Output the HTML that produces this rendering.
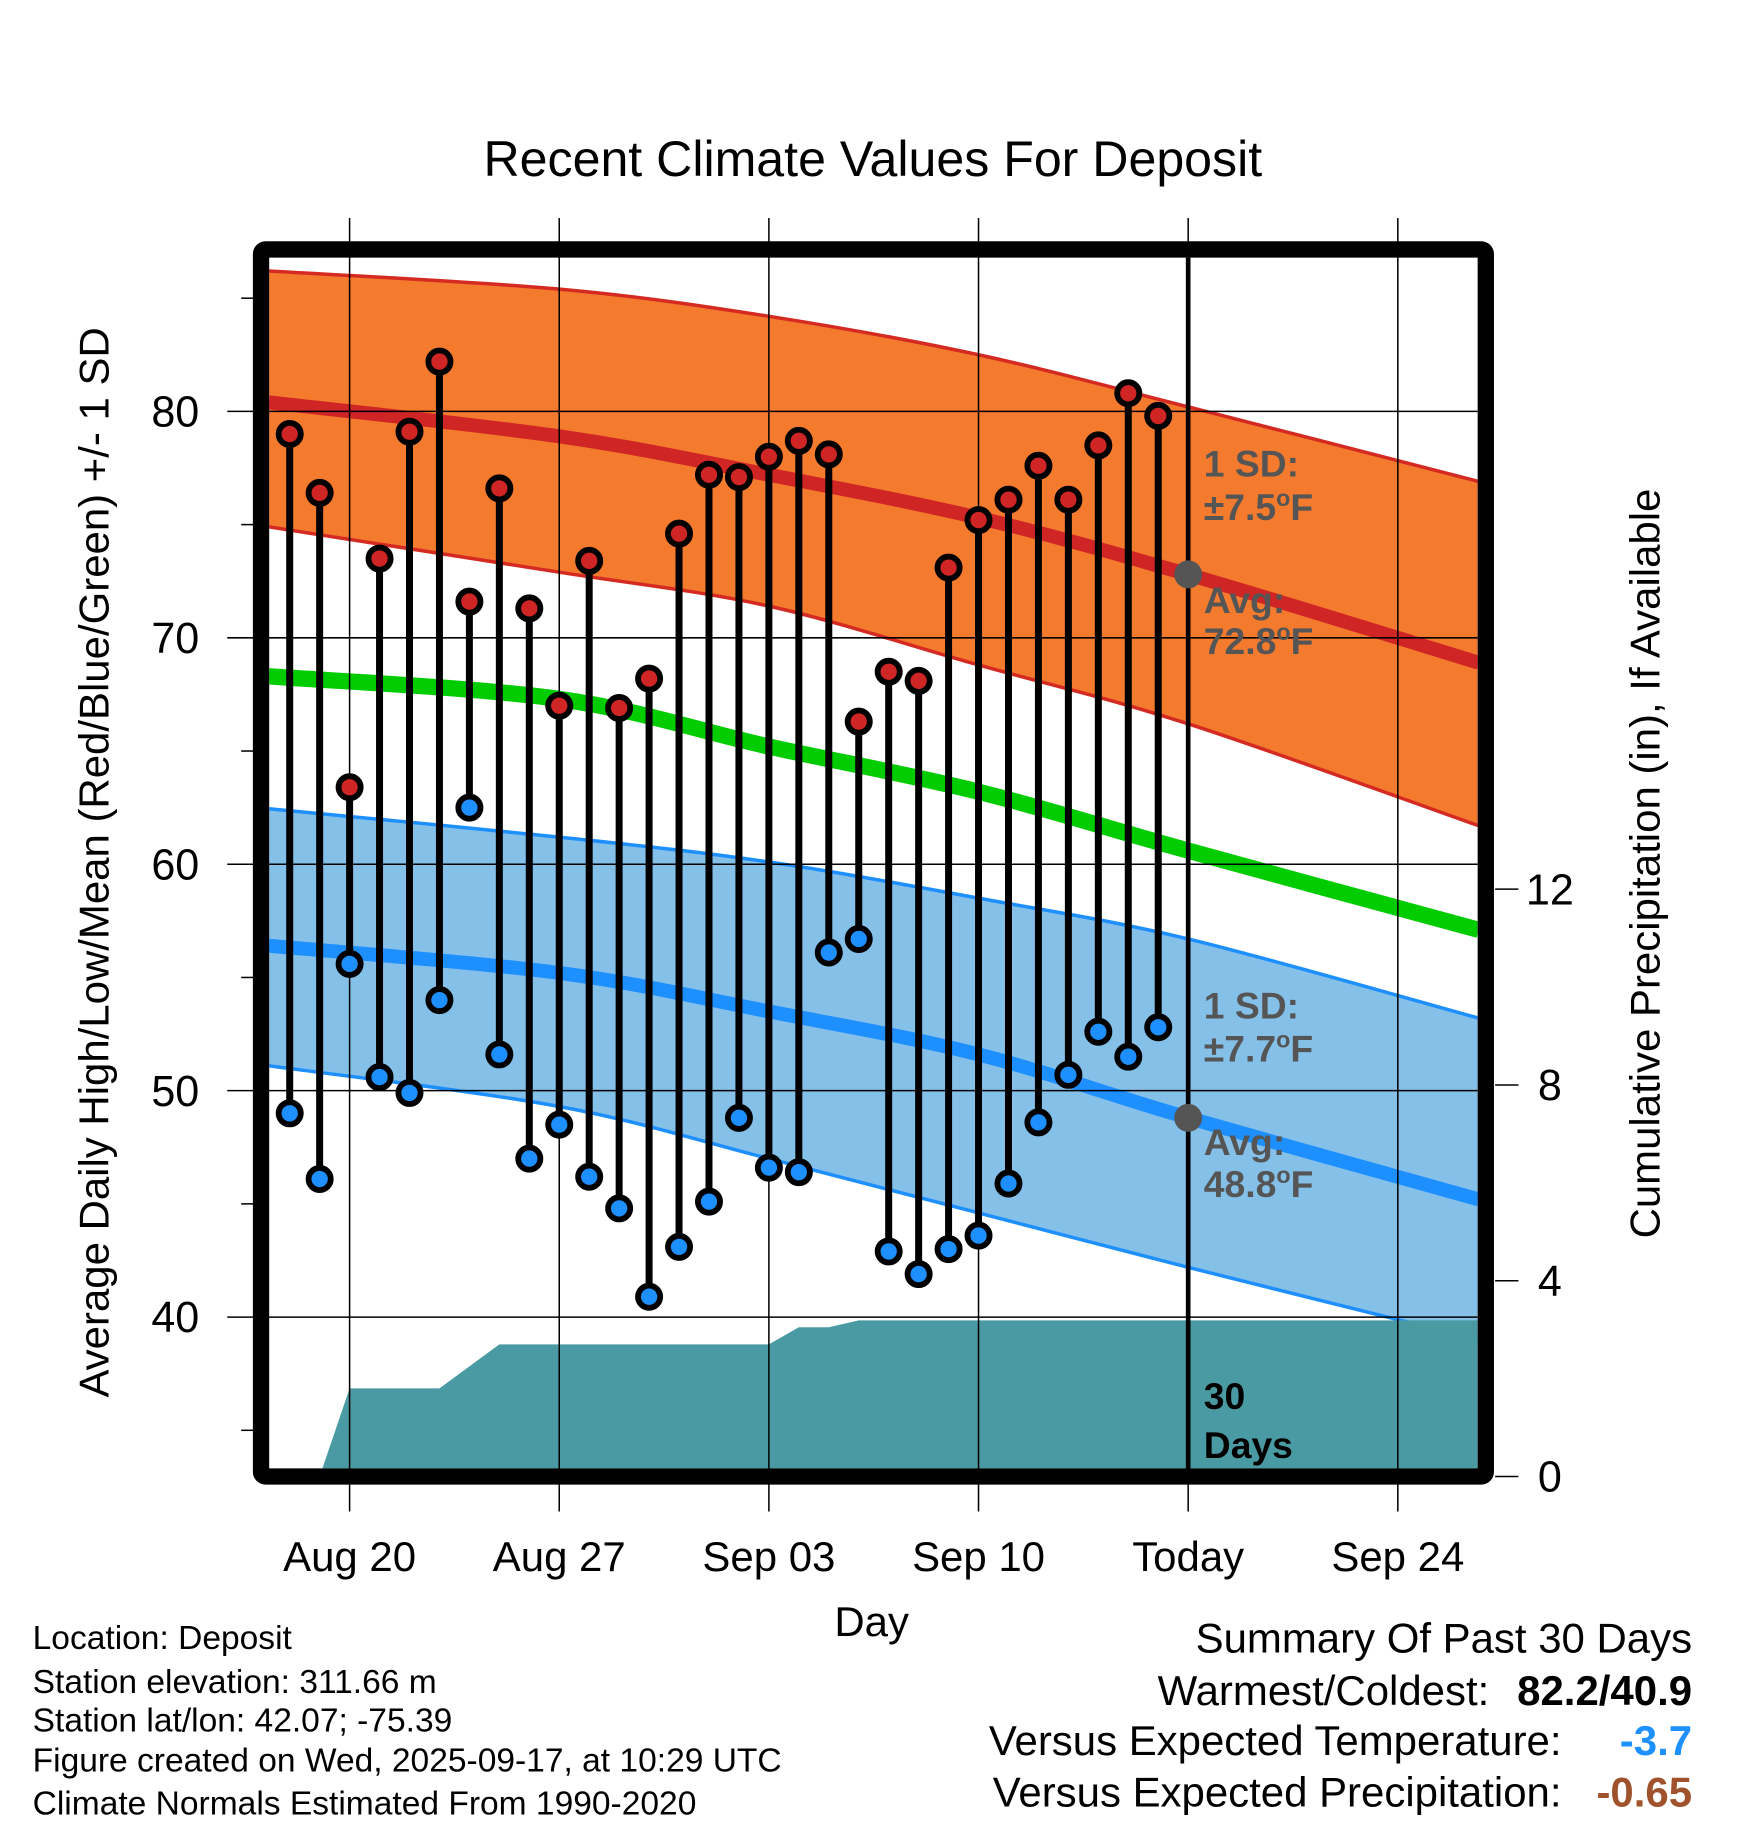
<!DOCTYPE html>
<html><head><meta charset="utf-8"><style>
html,body{margin:0;padding:0;background:#fff}
svg{display:block}
text{font-family:"Liberation Sans",sans-serif}
</style></head><body>
<svg id="chart" width="1748" height="1828" viewBox="0 0 1500 1568.6" xmlns="http://www.w3.org/2000/svg">
<text x="749" y="151" font-size="43" text-anchor="middle">Recent Climate Values For Deposit</text>
<text transform="translate(93,740) rotate(-90)" font-size="36" text-anchor="middle">Average Daily High/Low/Mean (Red/Blue/Green) +/- 1 SD</text>
<text transform="translate(1424,741) rotate(-90)" font-size="36" text-anchor="middle">Cumulative Precipitation (in), If Available</text>
<text x="748" y="1404" font-size="36" text-anchor="middle">Day</text>
<g id="plot"></g>
<g font-size="28.8">
<text x="28" y="1415">Location: Deposit</text>
<text x="28" y="1453">Station elevation: 311.66 m</text>
<text x="28" y="1486">Station lat/lon: 42.07; -75.39</text>
<text x="28" y="1520">Figure created on Wed, 2025-09-17, at 10:29 UTC</text>
<text x="28" y="1557">Climate Normals Estimated From 1990-2020</text>
</g>
<g font-size="36">
<text x="1452" y="1418" text-anchor="end">Summary Of Past 30 Days</text>
<text x="1278" y="1463" text-anchor="end">Warmest/Coldest:</text>
<text x="1452" y="1463" text-anchor="end" font-weight="bold">82.2/40.9</text>
<text x="1340" y="1506" text-anchor="end">Versus Expected Temperature:</text>
<text x="1452" y="1506" text-anchor="end" font-weight="bold" fill="#1e90ff">-3.7</text>
<text x="1340" y="1550" text-anchor="end">Versus Expected Precipitation:</text>
<text x="1452" y="1550" text-anchor="end" font-weight="bold" fill="#a0522d">-0.65</text>
</g>
</svg>
<script>
const obsDays=[-2,-1,0,1,2,3,4,5,6,7,8,9,10,11,12,13,14,15,16,17,18,19,20,21,22,23,24,25,26,27];
const highs=[79,76.4,63.4,73.5,79.1,82.2,71.6,76.6,71.3,67,73.4,66.9,68.2,74.6,77.2,77.1,78,78.7,78.1,66.3,68.5,68.1,73.1,75.2,76.1,77.6,76.1,78.5,80.8,79.8];
const lows=[49,46.1,55.6,50.6,49.9,54,62.5,51.6,47,48.5,46.2,44.8,40.9,43.1,45.1,48.8,46.6,46.4,56.1,56.7,42.9,41.9,43,43.6,45.9,48.6,50.7,52.6,51.5,52.8];
const precip=[0,0,1.8,1.8,1.8,1.8,2.25,2.7,2.7,2.7,2.7,2.7,2.7,2.7,2.7,2.7,2.7,3.05,3.05,3.19,3.19,3.19,3.19,3.19,3.19,3.19,3.19,3.19,3.19,3.19];
const normDays=[-2.7,7,14,21,28,37.7];
const highUpper=[86.2,85.4,84.2,82.5,80.2,76.9];
const highAvg=[80.4,78.9,77.2,75.3,72.8,68.9];
const highLower=[74.9,72.9,71.4,68.8,66.2,61.7];
const meanAvg=[68.3,67.3,65.2,63.2,60.6,57.1];
const lowUpper=[62.45,61.2,60.1,58.5,56.7,53.2];
const lowAvg=[56.4,55.2,53.5,51.6,48.8,45.2];
const lowLower=[51.1,49.3,47.0,44.6,42.2,39.0];
const yTicks=[40,50,60,70,80];
const yMinor=[35,45,55,65,75,85];
const y2Ticks=[0,4,8,12];
const xTickDays=[0,7,14,21,28,35];
const xTickLabels=["Aug 20","Aug 27","Sep 03","Sep 10","Today","Sep 24"];

const L=231,R=1268,T=221,B=1260;
const X=d=>300+d*25.7;
const Y=v=>353+(80-v)*19.43;
const Y2=p=>1267-p*42;
const NS="http://www.w3.org/2000/svg";
const plot=document.getElementById('plot');
function mk(tag,attrs,parent){const e=document.createElementNS(NS,tag);for(const k in attrs)e.setAttribute(k,attrs[k]);(parent||plot).appendChild(e);return e;}
function curvePts(vals){const pts=[];for(let i=0;i<normDays.length;i++)pts.push([X(normDays[i]),Y(vals[i])]);return pts;}
// Catmull-Rom smooth path through points
function smooth(p,start){let d=start?('M'+p[0][0]+','+p[0][1]):('L'+p[0][0]+','+p[0][1]);
  for(let i=0;i<p.length-1;i++){const p0=p[Math.max(0,i-1)],p1=p[i],p2=p[i+1],p3=p[Math.min(p.length-1,i+2)];
    const c1=[p1[0]+(p2[0]-p0[0])/6,p1[1]+(p2[1]-p0[1])/6],c2=[p2[0]-(p3[0]-p1[0])/6,p2[1]-(p3[1]-p1[1])/6];
    d+=' C'+c1[0].toFixed(1)+','+c1[1].toFixed(1)+' '+c2[0].toFixed(1)+','+c2[1].toFixed(1)+' '+p2[0].toFixed(1)+','+p2[1].toFixed(1);}
  return d;}
function ptsStr(p){return p.map(q=>q[0].toFixed(1)+','+q[1].toFixed(1)).join(' ');}
const defs=mk('defs',{});
const cp=mk('clipPath',{id:'clip'},defs);
mk('rect',{x:L,y:T,width:R-L,height:B-T},cp);
const g=mk('g',{'clip-path':'url(#clip)'});


function band(up,lo,fill,edge,name){
  const a=curvePts(up),b=curvePts(lo).reverse();
  const p=mk('path',{d:smooth(a,true)+' '+smooth(b,false)+' Z',fill:fill},g);
  
  
  const e1=mk('path',{d:smooth(a,true),fill:'none',stroke:edge,'stroke-width':3},g);
  
  
  const e2=mk('path',{d:smooth(curvePts(lo),true),fill:'none',stroke:edge,'stroke-width':3},g);
  
  
}
band(highUpper,highLower,'#f47a2e','#d42a22','high-sd-band');
band(lowUpper,lowLower,'#84c0e8','#1e8fff','low-sd-band');
function line(vals,color,w,name){const l=mk('path',{d:smooth(curvePts(vals),true),fill:'none',stroke:color,'stroke-width':w},g);
  
  }
line(highAvg,'#d02525',12,'avg-high-line');
line(meanAvg,'#00cc00',14,'avg-mean-line');
line(lowAvg,'#1e8fff',12,'avg-low-line');
{const pts=[[X(obsDays[0]),Y2(0)]];for(let i=0;i<obsDays.length;i++)pts.push([X(obsDays[i]),Y2(precip[i])]);
 pts.push([R,Y2(precip[precip.length-1])]);pts.push([R,B+10]);pts.push([X(obsDays[0]),B+10]);
 const p=mk('polygon',{points:ptsStr(pts),fill:'#4a9aa3'},g);
 
 }
for(const v of yTicks){const l=mk('line',{x1:195,x2:R,y1:Y(v),y2:Y(v),stroke:'#000','stroke-width':1.3});
  
  
  const t=mk('text',{x:171,y:Y(v)+13,'font-size':37,'text-anchor':'end'});t.textContent=v;
  
  }
for(const v of yMinor){const l=mk('line',{x1:207,x2:220,y1:Y(v),y2:Y(v),stroke:'#000','stroke-width':1.3});
  
  }
for(let i=0;i<xTickDays.length;i++){const x=X(xTickDays[i]);
  const l=mk('line',{x1:x,x2:x,y1:187,y2:1297,stroke:'#000','stroke-width':1.3});
  
  
  const t=mk('text',{x:x,y:1348,'font-size':36,'text-anchor':'middle'});t.textContent=xTickLabels[i];
  
  }
for(const v of y2Ticks){const l=mk('line',{x1:1283,x2:1303,y1:Y2(v),y2:Y2(v),stroke:'#000','stroke-width':1.3});
  
  
  const t=mk('text',{x:1330,y:Y2(v)+13,'font-size':37,'text-anchor':'middle'});t.textContent=v;
  
  }
{const l=mk('line',{x1:X(28),x2:X(28),y1:T,y2:B,stroke:'#000','stroke-width':4});
 
 }
for(let i=0;i<obsDays.length;i++){const x=X(obsDays[i]);
  const s=mk('line',{x1:x,x2:x,y1:Y(highs[i]),y2:Y(lows[i]),stroke:'#000','stroke-width':6});
  
  
  const h=mk('circle',{cx:x,cy:Y(highs[i]),r:9.5,fill:'#d02525',stroke:'#000','stroke-width':5});
  
  
  const lo=mk('circle',{cx:x,cy:Y(lows[i]),r:9.5,fill:'#1e8fff',stroke:'#000','stroke-width':5});
  
  }
{const a=mk('circle',{cx:X(28),cy:Y(highAvg[4]),r:12,fill:'#555'});
 
 
 const b=mk('circle',{cx:X(28),cy:Y(lowAvg[4]),r:12,fill:'#555'});
 
 }
function ann(txt,y,fill,name){const t=mk('text',{x:1033,y:y,'font-size':32,'font-weight':'bold',fill:fill});t.innerHTML=txt;
  
  }
const deg='<tspan dy="-12" font-size="20">o</tspan><tspan dy="12">F</tspan>';
ann('1 SD:',409,'#555','high-sd-label');
ann('±7.5'+deg,446,'#555','high-sd-value');
ann('Avg:',526,'#555','high-avg-label');
ann('72.8'+deg,561,'#555','high-avg-value');
ann('1 SD:',874,'#555','low-sd-label');
ann('±7.7'+deg,911,'#555','low-sd-value');
ann('Avg:',991,'#555','low-avg-label');
ann('48.8'+deg,1027,'#555','low-avg-value');
ann('30',1209,'#000','precip-days-label');
ann('Days',1251,'#000','precip-days-unit');
{const f=mk('rect',{x:224,y:214,width:1051,height:1053,rx:4,fill:'none',stroke:'#000','stroke-width':14});
 
 }
</script>
</body></html>
